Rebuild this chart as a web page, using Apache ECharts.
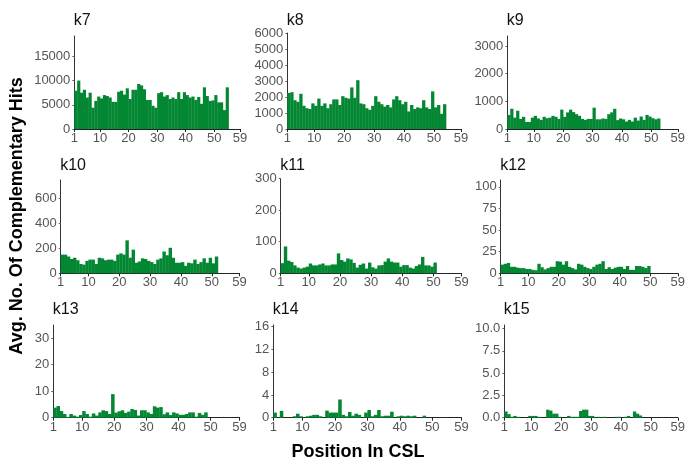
<!DOCTYPE html>
<html>
<head>
<meta charset="utf-8">
<script src="https://cdn.jsdelivr.net/npm/echarts@6/dist/echarts.min.js"></script>
<style>
  html, body { margin: 0; padding: 0; background: #fff; }
  #chart { width: 688px; height: 462px; }
</style>
</head>
<body>
<div id="chart"></div>
<script>
// Средние значения по позициям (позиция 1 .. N), по одному массиву на k
const k7 = [7900, 10000, 7500, 8100, 6500, 7500, 4400, 5800, 6700, 6300, 7000, 6800, 6500, 5600, 5600, 7700, 7900, 7100, 8400, 6200,
            8100, 8100, 9300, 9000, 8200, 6000, 6000, 4800, 4400, 7400, 7600, 6700, 7000, 6200, 6500, 6200, 7600, 6200, 7600, 7000,
            6500, 6700, 6000, 6600, 5200, 8600, 6800, 5800, 5900, 7000, 5500, 5500, 3900, 8600];
const k8 = [2250, 2300, 1800, 1700, 2200, 1450, 1300, 1250, 1600, 1450, 1900, 1450, 1600, 1300, 1550, 1850, 1850, 1500, 2050, 1950,
            1900, 2600, 1950, 3050, 1600, 1550, 1300, 1200, 1450, 2050, 1700, 1550, 1400, 1500, 1350, 1850, 2050, 1800, 1550, 1700,
            1100, 1500, 1250, 1350, 1300, 1800, 1350, 1250, 2350, 1350, 1500, 950, 1550];
const k9 = [510, 730, 410, 660, 365, 440, 255, 255, 410, 475, 380, 330, 440, 390, 410, 475, 440, 365, 700, 440,
            600, 700, 610, 535, 475, 365, 330, 365, 365, 770, 350, 350, 380, 365, 535, 600, 730, 320, 380, 350,
            270, 330, 270, 410, 305, 450, 330, 510, 450, 390, 350, 380];
const k10 = [150, 150, 135, 115, 125, 105, 75, 70, 100, 110, 110, 75, 125, 120, 105, 110, 110, 100, 150, 160,
             150, 265, 125, 190, 85, 95, 120, 115, 100, 90, 75, 110, 120, 175, 145, 205, 125, 85, 85, 90,
             60, 85, 80, 110, 75, 90, 120, 85, 125, 80, 135];
const k11 = [32, 85, 40, 36, 25, 18, 15, 18, 21, 31, 25, 25, 28, 31, 25, 25, 28, 28, 63, 42,
             37, 47, 44, 33, 18, 27, 31, 15, 34, 19, 15, 25, 26, 37, 47, 37, 34, 34, 21, 26,
             26, 18, 15, 23, 28, 52, 25, 25, 21, 34];
const k12 = [10, 11, 12, 7.5, 7.5, 6.5, 6, 6, 5, 5, 4, 3.5, 11, 7, 4.5, 6, 7.5, 7.5, 14, 13.5,
             10, 14, 7.5, 6, 4.5, 11, 10, 7.5, 6, 5, 7.5, 10, 11, 14, 5, 7, 5, 6.5, 7.5, 7.5,
             5, 8.5, 4, 4, 8.5, 8.5, 7.5, 6, 8.5];
const k13 = [3.8, 4.4, 2.5, 1.4, 0.3, 1.4, 0.8, 0.4, 1, 2.5, 1.4, 0.4, 1.6, 0.8, 2, 2.8, 2.5, 1.4, 8.9, 1.9,
             2.4, 2.8, 1.8, 2.3, 3.3, 2.9, 0.8, 2.8, 2.8, 2, 1.4, 4.3, 3.8, 4, 1.3, 2, 1, 2, 1.6, 1.1,
             1.1, 1.4, 2, 2, 0.4, 1.8, 1.1, 2];
const k14 = [0.9, 0, 1.2, 0, 0, 0, 0.25, 0.7, 0.25, 0, 0.25, 0.35, 0.5, 0.5, 0.25, 0, 1.25, 0.9, 0.9, 0.9,
             3.2, 0.5, 0.25, 1, 0.35, 0.7, 0.5, 0, 0.9, 1.35, 0.25, 0.5, 1.35, 0.25, 0.35, 0.35, 1.05, 0, 0.25, 0.35,
             0.25, 0.35, 0.25, 0.35, 0, 0, 0.35];
const k15 = [0.7, 0.4, 0.1, 0.2, 0.1, 0, 0, 0, 0.2, 0.2, 0.2, 0.1, 0, 0, 0.9, 0.8, 0.45, 0.45, 0.1, 0,
             0, 0.2, 0.1, 0.1, 0.1, 0.75, 0.9, 0.9, 0.2, 0.2, 0, 0.1, 0, 0.1, 0, 0, 0, 0.1, 0.1, 0,
             0.1, 0.2, 0, 0.7, 0.45, 0.25];

const panelNames = ['k7', 'k8', 'k9', 'k10', 'k11', 'k12', 'k13', 'k14', 'k15'];
const panelData  = [k7, k8, k9, k10, k11, k12, k13, k14, k15];
const yMax   = [19200, 6000, 3360, 750, 300, 108, 35, 16.3, 10.4];
const yTicks = [
  [0, 5000, 10000, 15000],
  [0, 1000, 2000, 3000, 4000, 5000, 6000],
  [0, 1000, 2000, 3000],
  [0, 200, 400, 600],
  [0, 100, 200, 300],
  [0, 25, 50, 75, 100],
  [0, 10, 20, 30],
  [0, 4, 8, 12, 16],
  [0, 2.5, 5, 7.5, 10]
];
const xTicks = [1, 10, 20, 30, 40, 50, 59];

// Расположение панелей (px): левый край оси, верх, правый край, низ
const boxes = [
  [74.3, 36, 240, 129], [287.3, 33, 461, 129], [507.3, 36, 682, 129],
  [60.7, 180, 239.5, 273.3], [280.7, 178.5, 461.5, 273.3], [500.7, 180, 682, 273.3],
  [53.3, 325, 239.5, 417.7], [273.3, 325, 461.5, 417.7], [504.3, 325, 682, 417.7]
];
// верх подписи панели по рядам
const titleTop = [13, 157.5, 302];

const GREEN = '#038732';
const FONT = '"Liberation Sans", Arial, Helvetica, sans-serif';

function renderBar(params, api) {
  const x = api.value(0);
  const v = api.value(1);
  const p0 = api.coord([x, 0]);
  const p1 = api.coord([x + 1, v]);
  return {
    type: 'rect',
    shape: { x: p0[0], y: p1[1], width: p1[0] - p0[0] + 0.3, height: p0[1] - p1[1] },
    style: { fill: GREEN }
  };
}

const grid = [], xAxis = [], yAxis = [], series = [], title = [];

panelNames.forEach(function (name, i) {
  const b = boxes[i];
  grid.push({ left: b[0], top: b[1], width: b[2] - b[0], height: b[3] - b[1] });

  title.push({
    text: name,
    left: b[0] - 0.5,
    top: titleTop[Math.floor(i / 3)],
    padding: 0,
    textStyle: { fontFamily: FONT, fontSize: 16, fontWeight: 'normal', color: '#111' }
  });

  xAxis.push({
    gridIndex: i, type: 'value', min: 1, max: 59,
    axisLine: { lineStyle: { color: '#222', width: 1 } },
    axisTick: { customValues: xTicks, length: 3, lineStyle: { color: '#222' } },
    axisLabel: { customValues: xTicks, margin: 3, color: '#555', fontSize: 13, fontFamily: FONT },
    splitLine: { show: false }
  });

  yAxis.push({
    gridIndex: i, type: 'value', min: 0, max: yMax[i],
    axisLine: { show: true, lineStyle: { color: '#333', width: 1 } },
    axisTick: { show: true, customValues: yTicks[i], length: 2, lineStyle: { color: '#666' } },
    axisLabel: {
      customValues: yTicks[i], margin: 4, color: '#555', fontSize: 13, fontFamily: FONT,
      padding: [0, 0, 4, 0],
      formatter: i === 8 ? function (v) { return v.toFixed(1); } : function (v) { return String(v); }
    },
    splitLine: { show: false }
  });

  series.push({
    type: 'custom',
    xAxisIndex: i, yAxisIndex: i,
    renderItem: renderBar,
    data: panelData[i].map(function (v, j) { return [j + 1, v]; }),
    silent: true
  });
});

const chart = echarts.init(document.getElementById('chart'), null, { renderer: 'canvas' });
chart.setOption({
  animation: false,
  backgroundColor: '#fff',
  title: title,
  grid: grid,
  xAxis: xAxis,
  yAxis: yAxis,
  series: series,
  graphic: [
    {
      type: 'text', x: 17, y: 216, rotation: Math.PI / 2,
      style: {
        text: 'Avg. No. Of Complementary Hits', fontFamily: FONT, fontSize: 18, fontWeight: 'bold',
        fill: '#000', align: 'center', verticalAlign: 'middle'
      }
    },
    {
      type: 'text', x: 358, y: 452,
      style: {
        text: 'Position In CSL', fontFamily: FONT, fontSize: 18, fontWeight: 'bold',
        fill: '#000', align: 'center', verticalAlign: 'middle'
      }
    }
  ]
});
</script>
</body>
</html>
